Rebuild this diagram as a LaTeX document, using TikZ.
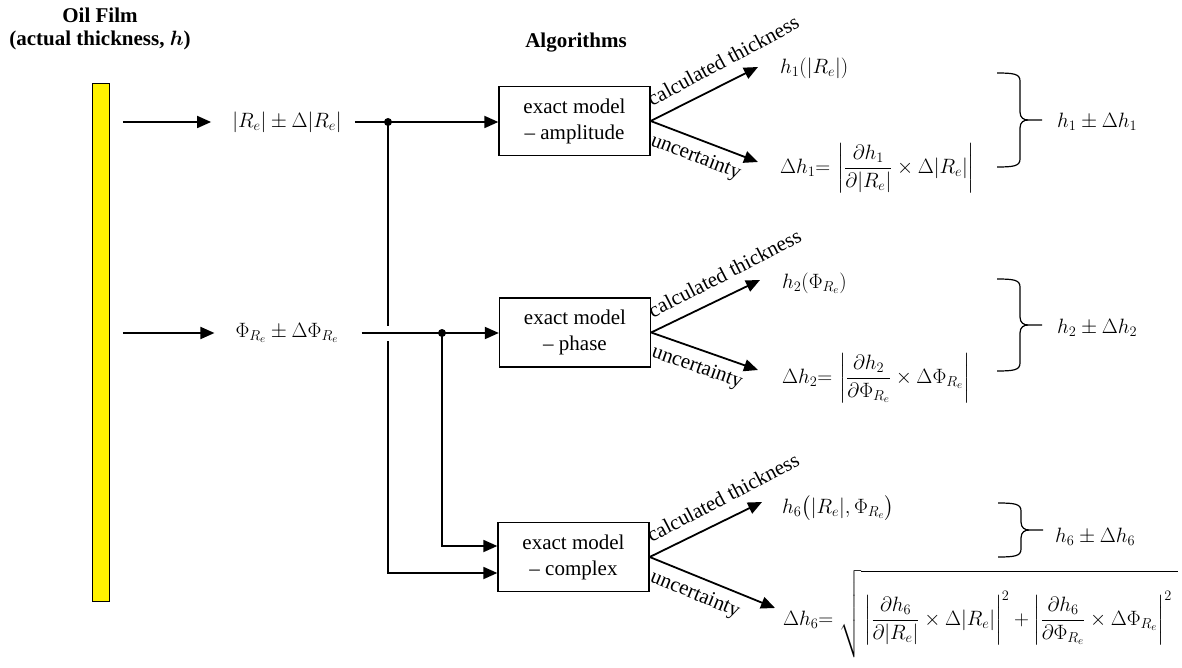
\documentclass[tikz,border=0pt]{standalone}
\usepackage{amsmath}
\usepackage{fontspec}
\setmainfont{Liberation Serif}
\newfontfamily\tnr{Liberation Serif}
\usetikzlibrary{arrows.meta,calc}
\newcommand\wordbrace[3]{%
 \draw[brc] (#1,#2-#3) .. controls (#1+17,#2-#3) and (#1+23,#2-#3+1) .. (#1+23,#2-#3+8) -- (#1+23,#2-8) .. controls (#1+23,#2-2) and (#1+27,#2) .. (#1+31,#2) -- (#1+45,#2);
 \draw[brc] (#1+31,#2) .. controls (#1+27,#2) and (#1+23,#2+2) .. (#1+23,#2+8) -- (#1+23,#2+#3-8) .. controls (#1+23,#2+#3-1) and (#1+17,#2+#3) .. (#1,#2+#3);}
\begin{document}
\begin{tikzpicture}[x=1pt,y=-1pt,
  btxt/.style={font=\tnr\bfseries\fontsize{21}{23}\selectfont, inner sep=0pt, align=center},
  mth/.style={font=\fontsize{21}{25}\selectfont, inner sep=0pt, anchor=west},
  algbox/.style={draw, line width=1.3pt, minimum width=151pt, minimum height=69pt, align=center, font=\tnr\fontsize{21}{26}\selectfont, inner sep=0pt},
  conn/.style={line width=1.8pt},
  arr/.style={conn, -{Triangle[length=14pt,width=12pt]}},
  lbl/.style={font=\tnr\fontsize{21}{24}\selectfont, inner xsep=0pt, sloped},
  lblup/.style={lbl, inner ysep=11pt, pos=0.06, anchor=south west, rotate=1.5},
  lbldn/.style={lbl, inner ysep=8pt, pos=0.06, anchor=north west},
  junc/.style={circle, fill, inner sep=0pt, minimum size=8pt},
  brc/.style={line width=1.2pt},
]
\useasboundingbox (0,0) rectangle (1182,668);
% titles
\node[btxt] (title) at (100,29) {Oil Film\\(actual thickness, $\boldsymbol{h}$)};
\node[btxt] (algo) at (576,43) {Algorithms};
% oil film bar
\node[draw, fill=yellow, line width=0.8pt, minimum width=17pt, minimum height=518pt, inner sep=0pt] (bar) at (101,342) {};
% inputs
\node[mth, anchor=center] (inR) at (287,122) {$|R_e| \pm \Delta|R_e|$};
\node[mth, anchor=center] (inP) at (287,333) {$\Phi_{R_e} \pm \Delta\Phi_{R_e}$};
\draw[arr] ([xshift=13pt]bar.east |- inR.west) -- ([xshift=-21pt]inR.west);
\draw[arr] ([xshift=13pt]bar.east |- inP.west) -- ([xshift=-21pt]inP.west);
% boxes
\node[algbox] (box1) at (574.5,121) {exact model\\– amplitude};
\node[algbox] (box2) at (575,332.5) {exact model\\– phase};
\node[algbox] (box3) at (573.5,557) {exact model\\– complex};
% junctions
\coordinate (j1) at (388,122);
\coordinate (j2) at (442,333);
\coordinate (g1) at (388,326);
\coordinate (g2) at (388,341);
\draw[conn] ([xshift=13pt]inR.east |- j1) -- (j1);
\draw[arr] (j1) -- (box1.west |- j1);
\draw[conn] (j1) -- (g1);
\draw[arr] (g2) |- ($(box3.west)+(0,16)$);
\draw[conn] ([xshift=23pt]inP.east |- j2) -- (j2);
\draw[arr] (j2) -- (box2.west |- j2);
\draw[arr] (j2) |- ($(box3.west)+(0,-11)$);
\node[junc] (d1) at (j1) {};
\node[junc] (d2) at (j2) {};
% outputs group 1
\coordinate (t1) at (758,67);
\coordinate (u1) at (758,162);
\draw[arr] (box1.east) -- (t1) node[lblup] {calculated thickness};
\draw[arr] (box1.east) -- (u1) node[lbldn] {uncertainty};
\node[mth] (r1a) at (780,68) {$h_1(|R_e|)$};
\node[mth] (r1b) at (780,168) {$\Delta h_1{=}\,\left|\dfrac{\partial h_1}{\partial |R_e|}\times \Delta|R_e|\right|$};
\wordbrace{997}{120}{47}
\node[mth] (s1) at (1057,122) {$h_1\pm\Delta h_1$};
% outputs group 2
\coordinate (t2) at (760,280);
\coordinate (u2) at (758,370);
\draw[arr] (box2.east) -- (t2) node[lblup] {calculated thickness};
\draw[arr] (box2.east) -- (u2) node[lbldn] {uncertainty};
\node[mth] (r2a) at (782,283) {$h_2(\Phi_{R_e})$};
\node[mth] (r2b) at (782,378) {$\Delta h_2{=}\,\left|\dfrac{\partial h_2}{\partial \Phi_{R_e}}\times \Delta\Phi_{R_e}\right|$};
\wordbrace{997}{325}{46}
\node[mth] (s2) at (1057,328) {$h_2\pm\Delta h_2$};
% outputs group 3
\coordinate (t3) at (762,502);
\coordinate (u3) at (775,608);
\draw[arr] (box3.east) -- (t3) node[lblup] {calculated thickness};
\draw[arr] (box3.east) -- (u3) node[lbldn] {uncertainty};
\node[mth] (r3a) at (782,508) {$h_6\bigl(|R_e|,\Phi_{R_e}\bigr)$};
\node[mth] (r3b) at (783,614) {$\Delta h_6{=}\;\sqrt{\rule[-32pt]{0pt}{84pt}\left|\dfrac{\partial h_6}{\partial |R_e|}\times \Delta|R_e|\right|^2+\left|\dfrac{\partial h_6}{\partial \Phi_{R_e}}\times \Delta\Phi_{R_e}\right|^2\;}$};
\wordbrace{998}{530}{27}
\node[mth] (s3) at (1055,537) {$h_6\pm\Delta h_6$};
\end{tikzpicture}
\end{document}
